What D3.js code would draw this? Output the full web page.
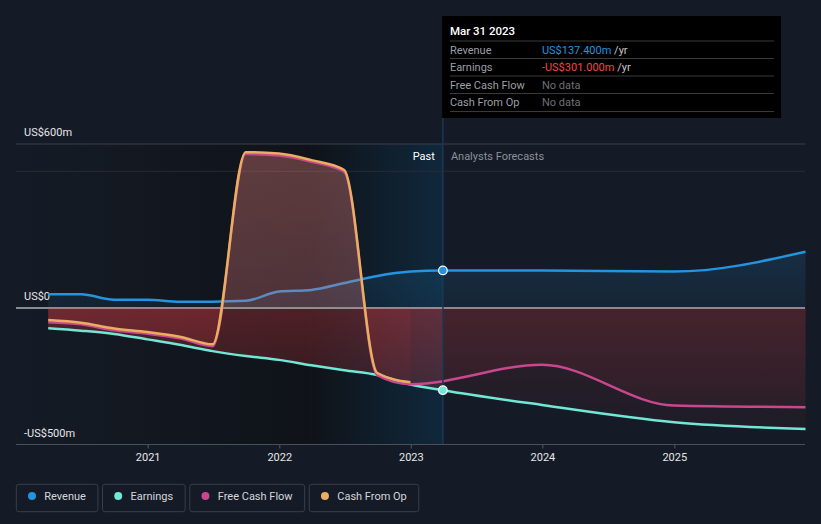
<!DOCTYPE html>
<html>
<head>
<meta charset="utf-8">
<script src="https://cdn.jsdelivr.net/npm/d3@7/dist/d3.min.js"></script>
<style>
  html, body { margin: 0; padding: 0; background: #151b26; }
  svg { display: block; font-family: Roboto, "Noto Sans", sans-serif; }
</style>
</head>
<body>
<svg id="chart" width="821" height="524"></svg>
<script>
// ---------------- data ----------------
const pastDates = ["2020-03-31","2020-06-30","2020-09-30","2020-12-31","2021-03-31","2021-06-30",
  "2021-09-30","2021-12-31","2022-03-31","2022-06-30","2022-09-30","2022-12-31","2023-03-31"];
const revenuePast  = [50, 50, 30, 30, 23, 23, 26, 60, 66, 91, 117, 133, 137.4];
const earningsPast = [-74, -83, -95, -115, -135, -158, -176, -190, -210, -228, -245, -280, -301];
const cfoPast      = [-44, -54, -75, -88, -105, -133, 570, 565, 541, 505, -238, -272];
const fcfPast      = [-52, -60, -82, -94, -111, -140, 563, 558, 535, 498, -246, -279];

const forecastDates    = ["2023-12-31","2024-12-31","2025-12-31"];
const revenueForecast  = [137, 133, 206];
const earningsForecast = [-355, -418, -443];
const fcfForecast      = [-208, -357, -363];

const yearTicks  = ["2021","2022","2023","2024","2025"];
const yLabelVals = [600, 0, -500];
const gridVals   = [600, 500];
const domainStart = "2020-03-31", domainEnd = "2025-12-31";
const highlightStart = "2022-03-31", pastEnd = "2023-03-31";

const seriesNames = ["Revenue","Earnings","Free Cash Flow","Cash From Op"];
const colors = {"Revenue":"#2394df","Earnings":"#71e7d6","Free Cash Flow":"#c9478e","Cash From Op":"#e9ae5f"};
const RED = "rgb(214,58,62)";

// ---------------- helpers ----------------
const parse = d3.utcParse("%Y-%m-%d");
const zip = (ds, vs) => vs.map((v, i) => ({date: parse(ds[i]), value: v}));

const revenue = zip(pastDates, revenuePast).concat(zip(forecastDates, revenueForecast));
const earnPast = zip(pastDates, earningsPast);
const earnFc = [earnPast[earnPast.length - 1]].concat(zip(forecastDates, earningsForecast));
const earnings = earnPast.concat(zip(forecastDates, earningsForecast));
const cfo = zip(pastDates, cfoPast);
const fcf = zip(pastDates, fcfPast).concat(zip(forecastDates, fcfForecast));

const svg = d3.select("#chart");
const W = 821, H = 524;
const left = 16, right = 805;

const x = d3.scaleUtc().domain([parse(domainStart), parse(domainEnd)]).range([48.2, 805.5]);
const y = d3.scaleLinear().domain([-500, 600]).range([444.6, 144]);

const defs = svg.append("defs");

svg.append("rect").attr("width", W).attr("height", H).attr("fill", "#151b26");

// past shading
const gPast = defs.append("linearGradient").attr("id", "gPast").attr("x1", 0).attr("x2", 1).attr("y1", 0).attr("y2", 0);
gPast.append("stop").attr("offset", 0).attr("stop-color", "#151b26");
gPast.append("stop").attr("offset", 1).attr("stop-color", "#0f1319");
svg.append("rect").attr("x", left).attr("y", y(600))
  .attr("width", x(parse(highlightStart)) - left).attr("height", y(-500) - y(600))
  .attr("fill", "url(#gPast)");

const gBand = defs.append("linearGradient").attr("id", "gBand").attr("x1", 0).attr("x2", 1).attr("y1", 0).attr("y2", 0);
gBand.append("stop").attr("offset", 0).attr("stop-color", "#0f1319");
gBand.append("stop").attr("offset", 1).attr("stop-color", "#10283c");
svg.append("rect").attr("x", x(parse(highlightStart))).attr("y", y(600))
  .attr("width", x(parse(pastEnd)) - x(parse(highlightStart))).attr("height", y(-500) - y(600))
  .attr("fill", "url(#gBand)");

// gridlines
svg.selectAll("line.grid").data(gridVals).join("line").attr("class", "grid")
  .attr("x1", left).attr("x2", right).attr("y1", d => y(d)).attr("y2", d => y(d))
  .attr("stroke", (d, i) => i === 0 ? "#3a3f48" : "#262b34").attr("stroke-width", 1);

// x axis
svg.append("line").attr("x1", left).attr("x2", right).attr("y1", 444.5).attr("y2", 444.5)
  .attr("stroke", "#4a4f57").attr("stroke-width", 1.2);
const xAxis = d3.axisBottom(x).tickValues(yearTicks.map(t => parse(t + "-01-01")))
  .tickFormat(d3.utcFormat("%Y")).tickSize(4).tickPadding(5);
const ax = svg.append("g").attr("transform", "translate(0,444.5)").call(xAxis);
ax.select(".domain").remove();
ax.selectAll(".tick line").attr("stroke", "#4a4f57").attr("stroke-width", 1.2);
ax.selectAll(".tick text").attr("fill", "#e6e6e6").attr("font-size", 11)
  .attr("font-family", "Roboto, sans-serif");

// y labels
const fmtY = v => (v < 0 ? "-" : "") + "US$" + Math.abs(v) + (v === 0 ? "" : "m");
svg.selectAll("text.ylab").data(yLabelVals).join("text").attr("class", "ylab")
  .attr("x", 24).attr("y", d => y(d) - 8).attr("fill", "#e6e6e6").attr("font-size", 11)
  .text(fmtY);

// gradients for areas
const yTop = y(600), yBot = y(-500), f = (y(0) - yTop) / (yBot - yTop);
function signGrad(id, color, posTop, posZero, negZero, negBot) {
  const g = defs.append("linearGradient").attr("id", id).attr("gradientUnits", "userSpaceOnUse")
    .attr("x1", 0).attr("x2", 0).attr("y1", yTop).attr("y2", yBot);
  g.append("stop").attr("offset", 0).attr("stop-color", color).attr("stop-opacity", posTop);
  g.append("stop").attr("offset", f).attr("stop-color", color).attr("stop-opacity", posZero);
  g.append("stop").attr("offset", f).attr("stop-color", RED).attr("stop-opacity", negZero);
  g.append("stop").attr("offset", 1).attr("stop-color", RED).attr("stop-opacity", negBot);
}
signGrad("gRev", colors["Revenue"], 0.3, 0.08, 0.1, 0.02);
signGrad("gEarnPast", colors["Earnings"], 0.2, 0.1, 0.32, 0.08);
signGrad("gEarnFc", colors["Earnings"], 0.2, 0.1, 0.14, 0.03);
signGrad("gFcf", colors["Free Cash Flow"], 0.24, 0.2, 0.13, 0.03);
signGrad("gCfo", colors["Cash From Op"], 0.2, 0.14, 0.1, 0.02);

const curve = d3.curveMonotoneX;
const area = d3.area().x(d => x(d.date)).y0(y(0)).y1(d => y(d.value)).curve(curve);
const line = d3.line().x(d => x(d.date)).y(d => y(d.value)).curve(curve);

svg.append("path").datum(revenue).attr("d", area).attr("fill", "url(#gRev)");
svg.append("path").datum(earnPast).attr("d", area).attr("fill", "url(#gEarnPast)");
svg.append("path").datum(earnFc).attr("d", area).attr("fill", "url(#gEarnFc)");

// zero line
svg.append("line").attr("x1", left).attr("x2", right).attr("y1", y(0)).attr("y2", y(0))
  .attr("stroke", "#aeb1b7").attr("stroke-width", 1.5);

svg.append("path").datum(revenue).attr("d", line).attr("fill", "none")
  .attr("stroke", colors["Revenue"]).attr("stroke-width", 2.5);

svg.append("path").datum(fcf).attr("d", area).attr("fill", "url(#gFcf)");
svg.append("path").datum(cfo).attr("d", area).attr("fill", "url(#gCfo)");

svg.append("path").datum(earnings).attr("d", line).attr("fill", "none")
  .attr("stroke", colors["Earnings"]).attr("stroke-width", 2.5);
svg.append("path").datum(fcf).attr("d", line).attr("fill", "none")
  .attr("stroke", colors["Free Cash Flow"]).attr("stroke-width", 2.5);
svg.append("path").datum(cfo).attr("d", line).attr("fill", "none")
  .attr("stroke", colors["Cash From Op"]).attr("stroke-width", 2.5);

// divider
const xp = x(parse(pastEnd));
svg.append("line").attr("x1", xp).attr("x2", xp).attr("y1", 16).attr("y2", 444)
  .attr("stroke", "#1c3850").attr("stroke-width", 1.5);

// Past / forecast labels
svg.append("text").attr("x", xp - 8).attr("y", 160).attr("text-anchor", "end")
  .attr("fill", "#ffffff").attr("font-size", 11).text("Past");
svg.append("text").attr("x", xp + 8).attr("y", 160)
  .attr("fill", "#8b9099").attr("font-size", 11).text("Analysts Forecasts");

// dots at past end
const lastRev = revenue[pastDates.length - 1], lastEarn = earnPast[earnPast.length - 1];
[[lastRev, colors["Revenue"]], [lastEarn, colors["Earnings"]]].forEach(([d, c]) => {
  svg.append("circle").attr("cx", x(d.date)).attr("cy", y(d.value)).attr("r", 4.3)
    .attr("fill", c).attr("stroke", "#ffffff").attr("stroke-width", 1.2);
});

// tooltip
const tip = svg.append("g");
tip.append("rect").attr("x", xp - 0.8).attr("y", 16).attr("width", 339).attr("height", 102).attr("fill", "#000");
tip.append("text").attr("x", xp + 7).attr("y", 35).attr("fill", "#ffffff").attr("font-size", 11.5)
  .attr("font-weight", 500).text(d3.utcFormat("%b %d %Y")(parse(pastEnd)));
const fmtM = v => (v < 0 ? "-" : "") + "US$" + d3.format(".3f")(Math.abs(v)) + "m";
const rows = [
  {label: "Revenue", value: fmtM(lastRev.value), color: colors["Revenue"], yr: true},
  {label: "Earnings", value: fmtM(lastEarn.value), color: "#f04848", yr: true},
  {label: "Free Cash Flow", value: "No data", color: "#6c7077", yr: false},
  {label: "Cash From Op", value: "No data", color: "#6c7077", yr: false}
];
const sepY = [41, 58.5, 76, 93.5, 111.5];
sepY.forEach(s => tip.append("line").attr("x1", xp + 7).attr("x2", xp + 331)
  .attr("y1", s).attr("y2", s).attr("stroke", "#3a3a3c").attr("stroke-width", 1));
rows.forEach((r, i) => {
  const by = 53.5 + i * 17.5;
  tip.append("text").attr("x", xp + 7).attr("y", by).attr("fill", "#9a9ea5").attr("font-size", 11).text(r.label);
  const t = tip.append("text").attr("x", xp + 99).attr("y", by).attr("font-size", 11);
  t.append("tspan").attr("fill", r.color).text(r.value);
  if (r.yr) t.append("tspan").attr("fill", "#c8c8c8").text(" /yr");
});

// legend
let lx = 16.3;
const lg = svg.append("g");
seriesNames.forEach(name => {
  const g = lg.append("g");
  const txt = g.append("text").attr("x", lx + 28).attr("y", 500).attr("fill", "#d4d6da")
    .attr("font-size", 11).text(name);
  const tw = txt.node().getComputedTextLength();
  const bw = 28 + tw + 12;
  g.insert("rect", "text").attr("x", lx).attr("y", 484.3).attr("width", bw).attr("height", 27.4)
    .attr("rx", 2.5).attr("fill", "none").attr("stroke", "#393e47").attr("stroke-width", 1);
  g.append("circle").attr("cx", lx + 15.7).attr("cy", 496).attr("r", 4).attr("fill", colors[name]);
  lx += bw + 4.6;
});
</script>
</body>
</html>
